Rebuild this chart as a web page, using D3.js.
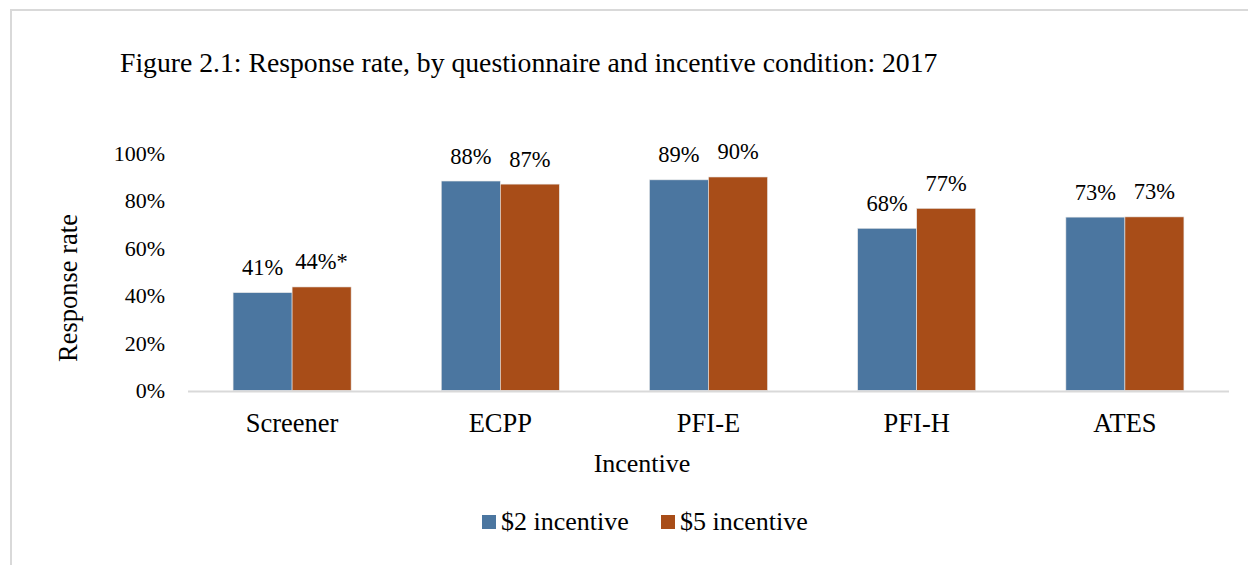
<!DOCTYPE html>
<html>
<head>
<meta charset="utf-8">
<script src="https://cdn.jsdelivr.net/npm/d3@7"></script>
<style>
  body { margin: 0; background: #fff; }
  svg { display: block; }
  svg text { font-family: "Liberation Serif", "Times New Roman", serif; fill: #000; }
</style>
</head>
<body>
<svg id="chart" width="1248" height="565"></svg>
<script>
// data
const categories = ["Screener", "ECPP", "PFI-E", "PFI-H", "ATES"];
const seriesNames = ["$2 incentive", "$5 incentive"];
const incentive2 = [41.2, 88.2, 88.7, 68.3, 73.0];
const incentive5 = [43.6, 86.9, 89.9, 76.7, 73.1];
const labels2 = ["41%", "88%", "89%", "68%", "73%"];
const labels5 = ["44%*", "87%", "90%", "77%", "73%"];
const yTicks = [0, 20, 40, 60, 80, 100];
const colors = ["#4b76a0", "#a84d18"];

const svg = d3.select("#chart");
const margin = { top: 153, right: 19, bottom: 175, left: 188 };
const width = 1248, height = 565;

// outer frame (only top/left edges show in the crop)
svg.append("rect")
    .attr("x", 11).attr("y", 10)
    .attr("width", 1400).attr("height", 700)
    .attr("fill", "none")
    .attr("stroke", "#d9d9d9")
    .attr("stroke-width", 2);

svg.append("text")
    .attr("x", 120).attr("y", 72)
    .attr("font-size", 27.7)
    .text("Figure 2.1: Response rate, by questionnaire and incentive condition: 2017");

const x0 = d3.scaleBand()
    .domain(categories)
    .range([margin.left, width - margin.right])
    .paddingInner(0.433)
    .paddingOuter(0.2165);

const x1 = d3.scaleBand()
    .domain([0, 1])
    .range([0, x0.bandwidth()]);

const y = d3.scaleLinear()
    .domain([0, 100])
    .range([height - margin.bottom + 0.5, margin.top]);

// y axis: labels only
const yAxis = svg.append("g")
    .attr("transform", `translate(${margin.left - 23},0)`)
    .call(d3.axisLeft(y).tickValues(yTicks).tickFormat(d => d + "%").tickSize(0).tickPadding(0))
    .call(g => g.select(".domain").remove())
    .attr("font-family", null);
yAxis.selectAll("text")
    .attr("font-size", 22)
    .attr("dy", "0.33em");

const rows = categories.map((c, i) => ({
    cat: c,
    vals: [incentive2[i], incentive5[i]],
    labs: [labels2[i], labels5[i]]
}));

const groups = svg.append("g").selectAll("g")
    .data(rows)
    .join("g")
    .attr("transform", d => `translate(${x0(d.cat)},0)`);

groups.selectAll("rect")
    .data(d => d.vals.map((v, k) => ({ v, k })))
    .join("rect")
    .attr("x", d => x1(d.k))
    .attr("y", d => y(d.v))
    .attr("width", x1.bandwidth())
    .attr("height", d => y(0) - y(d.v))
    .attr("fill", d => colors[d.k])
    .attr("stroke", "#e8e8e8")
    .attr("stroke-width", 0.6);

groups.selectAll("text.lab")
    .data(d => d.vals.map((v, k) => ({ v, k, lab: d.labs[k] })))
    .join("text")
    .attr("class", "lab")
    .attr("x", d => x1(d.k) + x1.bandwidth() / 2)
    .attr("y", d => y(d.v) - 17.5)
    .attr("text-anchor", "middle")
    .attr("font-size", 22.5)
    .text(d => d.lab);

// baseline
svg.append("line")
    .attr("x1", margin.left).attr("x2", width - margin.right)
    .attr("y1", y(0) + 1).attr("y2", y(0) + 1)
    .attr("stroke", "#d9d9d9")
    .attr("stroke-width", 2);

// x axis: category names
const xAxis = svg.append("g")
    .attr("transform", `translate(0,${y(0)})`)
    .call(d3.axisBottom(x0).tickSize(0).tickPadding(0))
    .call(g => g.select(".domain").remove())
    .attr("font-family", null);
xAxis.selectAll("text")
    .attr("font-size", 26.5)
    .attr("dy", null)
    .attr("y", 41);

svg.append("text")
    .attr("x", 642)
    .attr("y", 471.5)
    .attr("text-anchor", "middle")
    .attr("font-size", 26)
    .text("Incentive");

svg.append("text")
    .attr("transform", "translate(77,288) rotate(-90)")
    .attr("text-anchor", "middle")
    .attr("font-size", 26.5)
    .text("Response rate");

// legend
const legendX = [482, 661];
const legend = svg.append("g").selectAll("g")
    .data(seriesNames)
    .join("g")
    .attr("transform", (d, i) => `translate(${legendX[i]},515)`);
legend.append("rect")
    .attr("width", 14).attr("height", 14)
    .attr("fill", (d, i) => colors[i]);
legend.append("text")
    .attr("x", 19).attr("y", 15)
    .attr("font-size", 26)
    .text(d => d);
</script>
</body>
</html>
